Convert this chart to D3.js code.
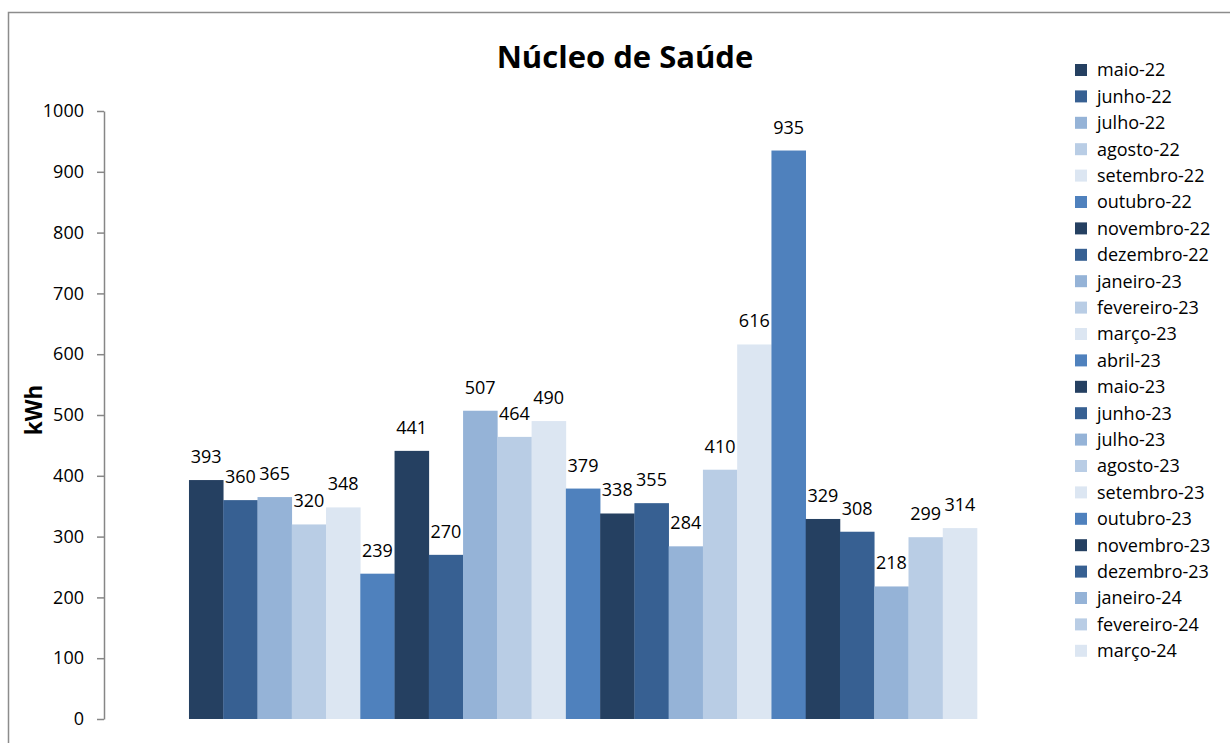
<!DOCTYPE html>
<html><head><meta charset="utf-8">
<script src="https://cdn.jsdelivr.net/npm/d3@7"></script>
<style>body{margin:0;background:#fff;} svg{display:block;}</style>
</head><body>
<svg id="c" width="1230" height="743"></svg>
<script>
const months = ["maio-22","junho-22","julho-22","agosto-22","setembro-22","outubro-22","novembro-22","dezembro-22","janeiro-23","fevereiro-23","março-23","abril-23","maio-23","junho-23","julho-23","agosto-23","setembro-23","outubro-23","novembro-23","dezembro-23","janeiro-24","fevereiro-24","março-24"];
const values = [393,360,365,320,348,239,441,270,507,464,490,379,338,355,284,410,616,935,329,308,218,299,314];
const palette = ["#254061","#376092","#95B3D7","#B9CDE5","#DCE6F2","#4F81BD"];
const yTicks = [0,100,200,300,400,500,600,700,800,900,1000];
const title = "Núcleo de Saúde";
const yLabel = "kWh";

const svg = d3.select("#c");
const font = "'Open Sans', 'Noto Sans', sans-serif";

// outer border
svg.append("rect").attr("x",8.5).attr("y",12.5).attr("width",1240).attr("height",760)
  .attr("fill","none").attr("stroke","#8c8c8c").attr("stroke-width",1.5);

const plotL = 104, plotR = 1062, plotT = 111, plotB = 719;
const y = d3.scaleLinear().domain([0,1000]).range([plotB, plotT]);
const x = d3.scaleBand().domain(months).range([plotL, plotR]).paddingInner(0).paddingOuter(2.48);

// axis
const ax = svg.append("g").attr("transform",`translate(${plotL},0)`)
  .call(d3.axisLeft(y).tickValues(yTicks).tickFormat(d3.format("d")).tickSize(7).tickSizeOuter(0).tickPadding(13));
ax.select(".domain").attr("stroke","#868686").attr("stroke-width",1.5);
ax.selectAll(".tick line").attr("stroke","#868686").attr("stroke-width",1.5);
ax.selectAll(".tick text").attr("font-family",font).attr("font-size",18).attr("fill","#000");

// bars
svg.append("g").selectAll("rect").data(months).join("rect")
  .attr("x", d=>x(d)).attr("width", x.bandwidth()+0.3)
  .attr("y", (d,i)=>y(values[i])).attr("height",(d,i)=>plotB - y(values[i]))
  .attr("fill",(d,i)=>palette[i%6]);

// value labels
svg.append("g").selectAll("text").data(months).join("text")
  .attr("x", d=>x(d)+x.bandwidth()/2).attr("y",(d,i)=>y(values[i])-17)
  .attr("text-anchor","middle").attr("font-family",font).attr("font-size",18).attr("fill","#000")
  .text((d,i)=>values[i]);

// title
svg.append("text").attr("x",625).attr("y",68).attr("text-anchor","middle")
  .attr("font-family",font).attr("font-weight","bold").attr("font-size",31).attr("fill","#000").text(title);

// y label
svg.append("text").attr("transform","translate(42,410) rotate(-90)").attr("text-anchor","middle")
  .attr("font-family",font).attr("font-weight","bold").attr("font-size",22.5).attr("fill","#000").text(yLabel);

// legend
const lg = svg.append("g");
const rowH = 26.4;
months.forEach((m,i)=>{
  const cy = 70 + i*rowH;
  lg.append("rect").attr("x",1075).attr("y",cy-6).attr("width",12).attr("height",12).attr("fill",palette[i%6]);
  lg.append("text").attr("x",1097).attr("y",cy).attr("dy","0.35em").attr("font-family",font)
    .attr("font-size",18).attr("fill","#000").text(m);
});
</script>
</body></html>
